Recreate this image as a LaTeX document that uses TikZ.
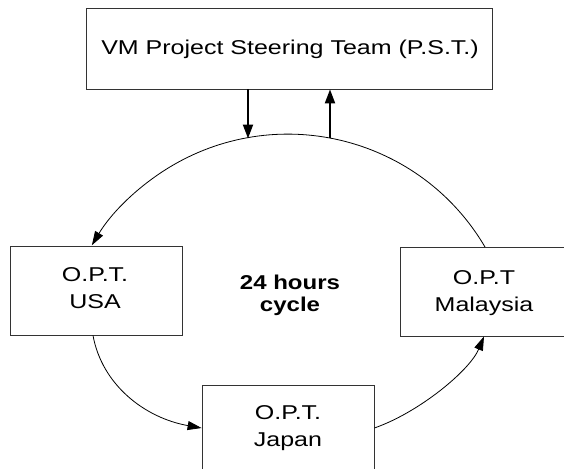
\documentclass[tikz,border=0pt]{standalone}
\usepackage{fontspec}
\newfontfamily\widefont[FakeStretch=1.25]{Liberation Sans}
\newfontfamily\wideboldfont[FakeStretch=1.2]{Liberation Sans}
\usetikzlibrary{arrows.meta}
\begin{document}
\begin{tikzpicture}[x=1pt,y=-1pt,
  box/.style={draw=black!80,line width=0.8pt,inner sep=0pt},
  lbl/.style={font=\widefont\fontsize{20}{27}\selectfont,align=center,inner sep=0pt},
  ctr/.style={font=\wideboldfont\bfseries\fontsize{20}{22}\selectfont,align=center,inner sep=0pt},
  conn/.style={line width=0.8pt,-{Triangle[length=14pt,width=9pt]}},
  vert/.style={line width=2pt,-{Triangle[length=14pt,width=10pt]}}]
\useasboundingbox (0,0) rectangle (564,468);
\clip (0,0) rectangle (564,468);
\fill[white] (0,0) rectangle (564,468);
% boxes
\node[box,minimum width=406pt,minimum height=81pt] (pst) at (289,48.5) {};
\node[box,minimum width=172pt,minimum height=89pt] (usa) at (96,290.5) {};
\node[box,minimum width=170pt,minimum height=89pt] (mal) at (485,291.5) {};
\node[box,minimum width=172pt,minimum height=95pt] (jap) at (288,432.5) {};
% labels
\node[lbl] (pstt) at (290,49.8) {VM Project Steering Team (P.S.T.)};
\node[lbl] (usat) at (95,288.3) {O.P.T.\\USA};
\node[lbl] (malt) at (484,293.4) {O.P.T\\Malaysia};
\node[lbl] (japt) at (288,428.4) {O.P.T.\\Japan};
\node[ctr] (cyc) at (290,295.8) {24 hours\\cycle};
% points on the big cycle
\coordinate (d) at (248,138.5);
\coordinate (u) at (330,137.5);
\coordinate (r) at (485,247);
% vertical arrows
\draw[vert] (pst.south -| d) -- (d);
\draw[vert] (u) -- (pst.south -| u);
% upper arc: Malaysia -> over the top -> USA
\draw[conn] (r) arc[start angle=329.6,end angle=210.9,radius=228.5];
% lower arcs
\draw[conn] (usa.south -| 93,0) .. controls (102,385) and (145,418) .. (jap.west |- 0,428);
\draw[conn] (jap.east |- 0,428) .. controls (420,412) and (470,370) .. (mal.south -| 484,0);
\end{tikzpicture}
\end{document}
